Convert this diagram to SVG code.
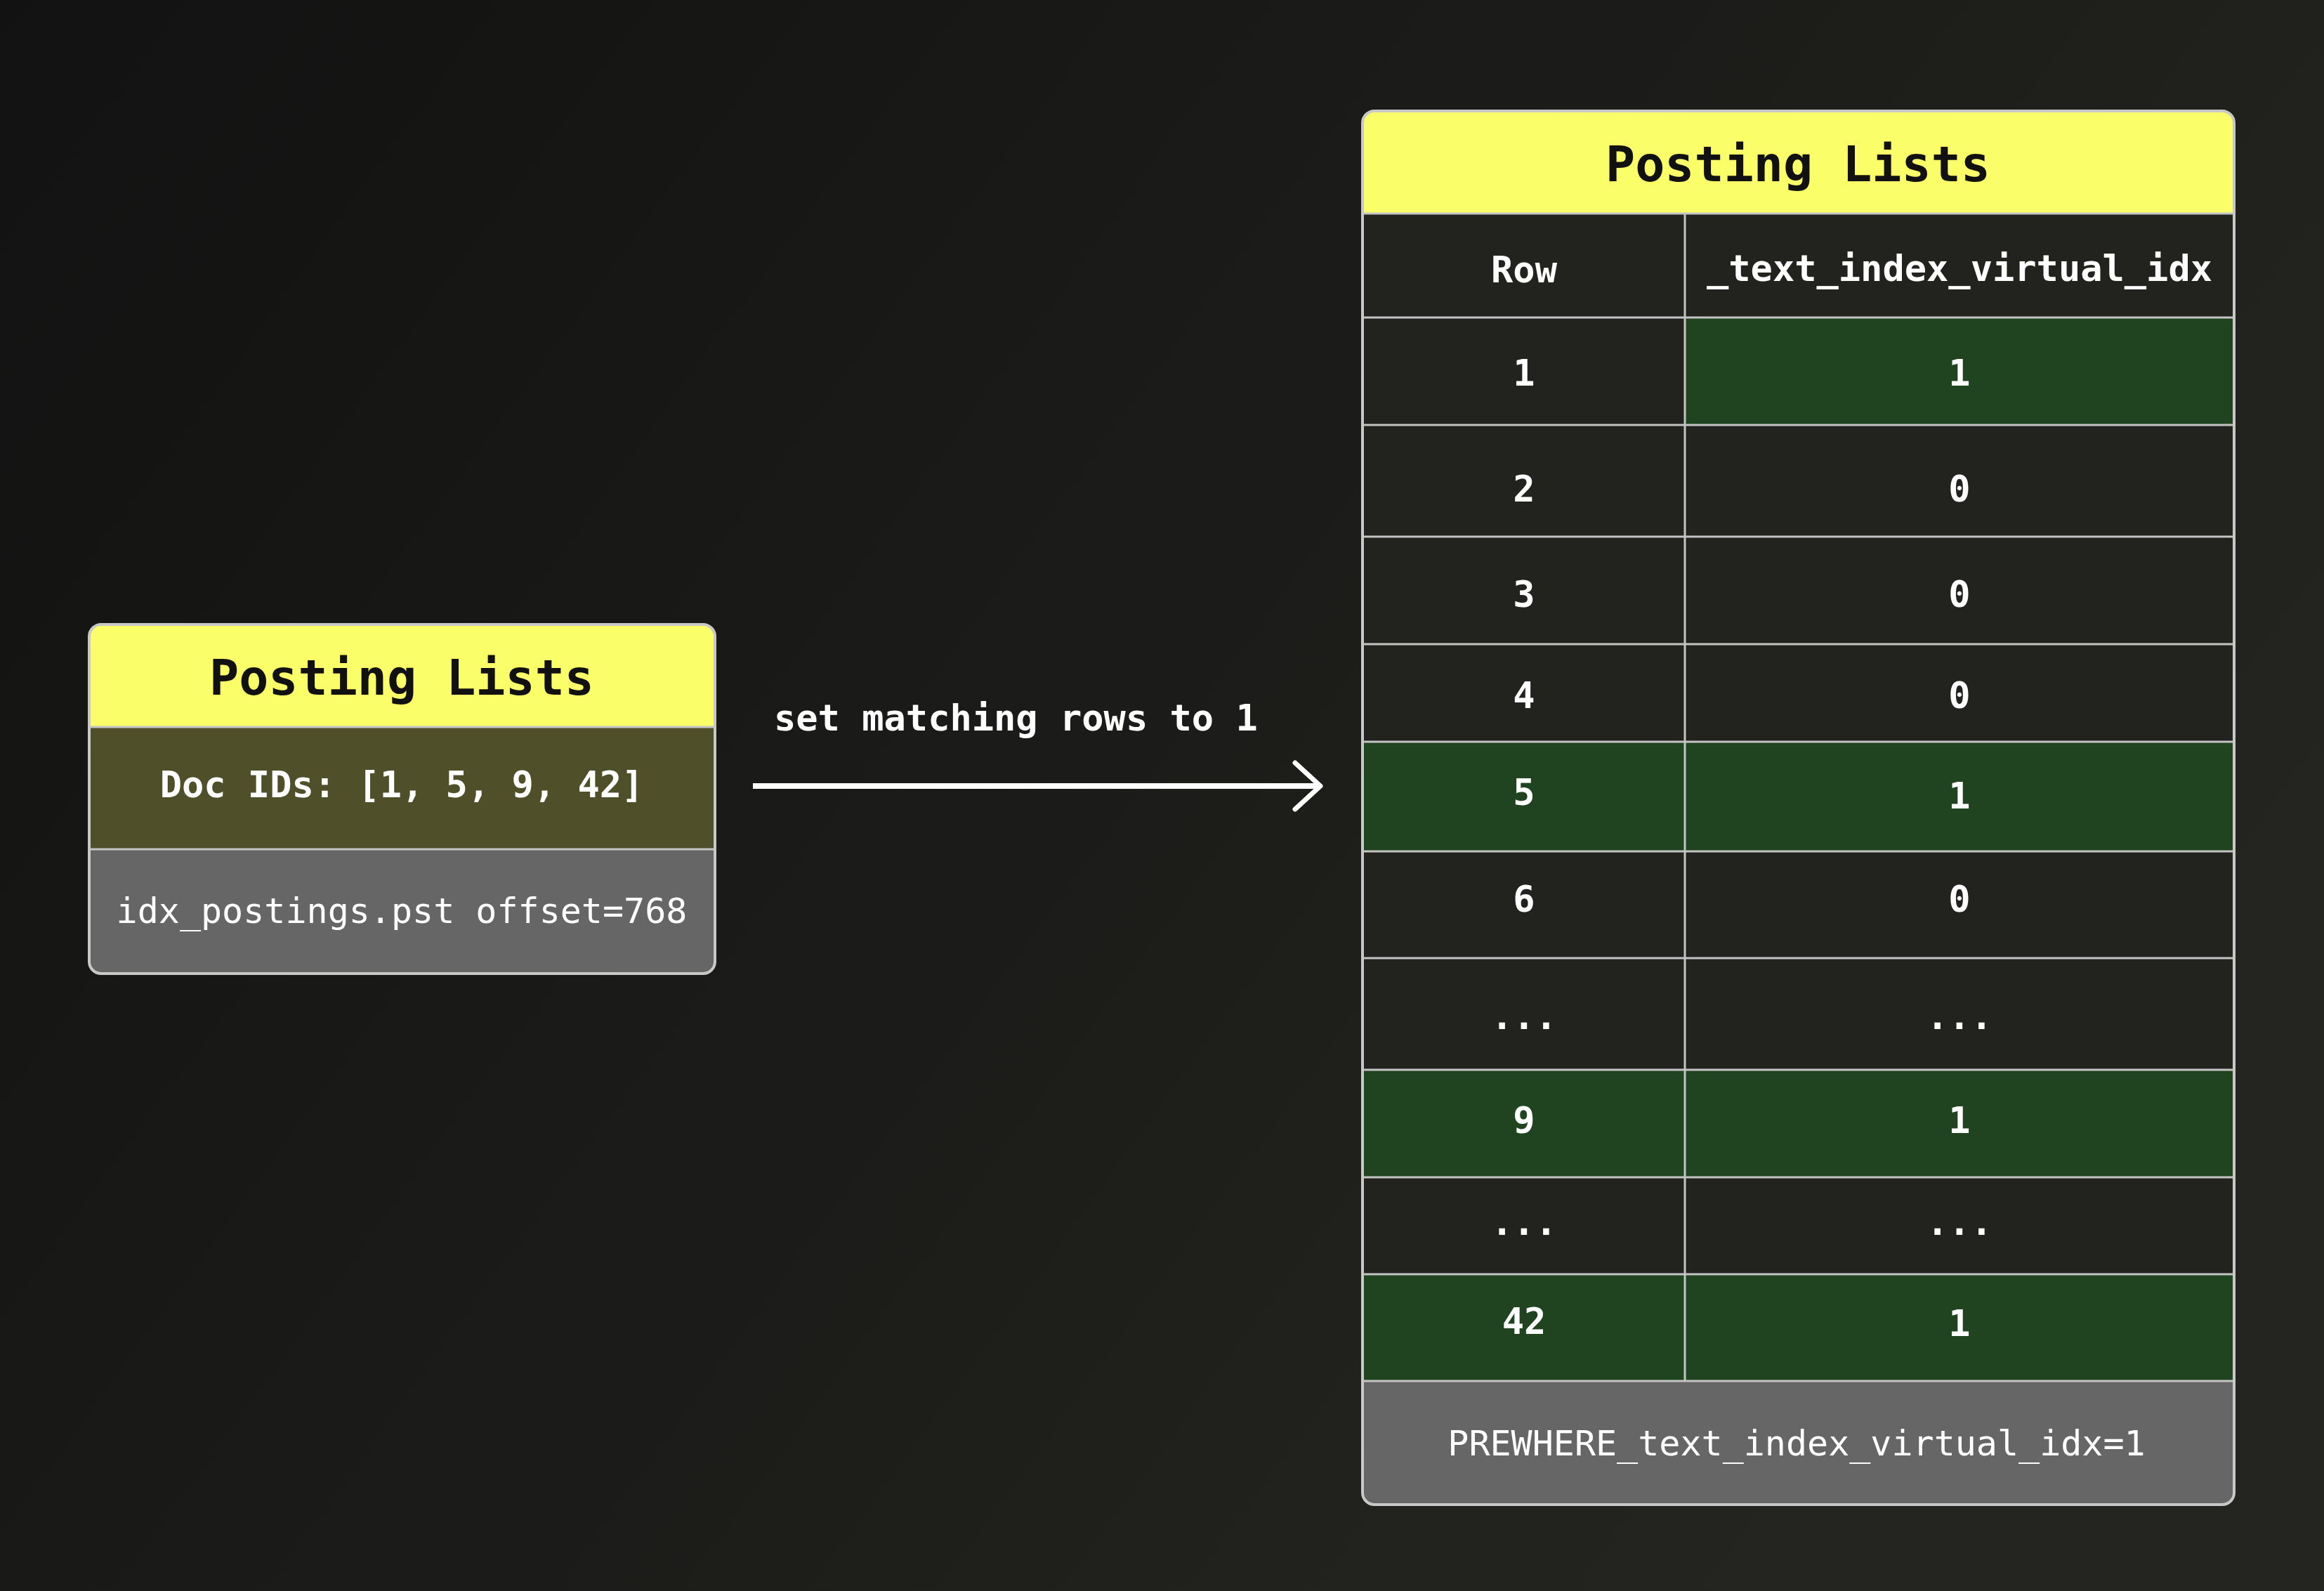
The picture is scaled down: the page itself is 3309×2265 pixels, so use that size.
<svg xmlns="http://www.w3.org/2000/svg" width="3309" height="2265" viewBox="0 0 3309 2265">
  <defs>
    <linearGradient id="bg" x1="0" y1="0" x2="1" y2="0.5">
      <stop offset="0" stop-color="#121212"/>
      <stop offset="0.55" stop-color="#1b1b19"/>
      <stop offset="1" stop-color="#242420"/>
    </linearGradient>
    <clipPath id="clipLeft">
      <rect x="127" y="889" width="891" height="497" rx="17" ry="17"/>
    </clipPath>
    <clipPath id="clipRight">
      <rect x="1940" y="158" width="1241" height="1984" rx="17" ry="17"/>
    </clipPath>
    <marker id="chev" markerUnits="userSpaceOnUse" viewBox="0 0 44 74" refX="40" refY="37" markerWidth="44" markerHeight="74" orient="auto">
      <path d="M4,4 L40,37 L4,70" fill="none" stroke="#ffffff" stroke-width="7" stroke-linecap="round" stroke-linejoin="round"/>
    </marker>
    <style>
      .title { font-family: "DejaVu Sans Mono", "Liberation Mono", monospace; font-size: 70px; font-weight: bold; fill: #111111; text-anchor: middle; }
      .cell { font-family: "DejaVu Sans Mono", "Liberation Mono", monospace; font-size: 52px; font-weight: bold; fill: #ffffff; text-anchor: middle; }
      .foot { font-family: "DejaVu Sans Mono", "Liberation Mono", monospace; font-size: 50px; font-weight: normal; fill: #ffffff; text-anchor: middle; }
      .grid { stroke: #c4c4c4; stroke-width: 3; fill: none; }
      .outline { stroke: #c8c8c8; stroke-width: 4; fill: none; }
      .yellow { fill: #faff69; }
      .olive { fill: #4f4f2a; }
      .grey { fill: #666666; }
      .dark { fill: #22221f; }
      .green { fill: #1f441f; }
    </style>
  </defs>

  <rect x="0" y="0" width="3309" height="2265" fill="url(#bg)"/>

  <g id="node-left">
    <g clip-path="url(#clipLeft)">
      <rect class="yellow" x="127" y="889" width="891" height="146"/>
      <rect class="olive" x="127" y="1035" width="891" height="174"/>
      <rect class="grey" x="127" y="1209" width="891" height="177"/>
    </g>
    <line class="grid" x1="127" y1="1035" x2="1018" y2="1035"/>
    <line class="grid" x1="127" y1="1209" x2="1018" y2="1209"/>
    <rect class="outline" x="127" y="889" width="891" height="497" rx="17" ry="17"/>
    <text class="title" x="572" y="989">Posting Lists</text>
    <text class="cell" x="572" y="1135">Doc IDs: [1, 5, 9, 42]</text>
    <text class="foot" x="572" y="1314">idx_postings.pst offset=768</text>
  </g>

  <g id="node-right">
    <g clip-path="url(#clipRight)">
      <rect class="yellow" x="1940" y="158" width="1241" height="146"/>
      <rect class="dark" x="1940" y="304" width="1241" height="1662"/>
      <rect class="green" x="2399" y="452" width="782" height="153"/>
      <rect class="green" x="1940" y="1056" width="1241" height="156"/>
      <rect class="green" x="1940" y="1523" width="1241" height="153"/>
      <rect class="green" x="1940" y="1814" width="1241" height="152"/>
      <rect class="grey" x="1940" y="1966" width="1241" height="176"/>
    </g>
    <g class="grid">
      <line x1="1940" y1="304" x2="3181" y2="304"/>
      <line x1="1940" y1="452" x2="3181" y2="452"/>
      <line x1="1940" y1="605" x2="3181" y2="605"/>
      <line x1="1940" y1="764" x2="3181" y2="764"/>
      <line x1="1940" y1="917" x2="3181" y2="917"/>
      <line x1="1940" y1="1056" x2="3181" y2="1056"/>
      <line x1="1940" y1="1212" x2="3181" y2="1212"/>
      <line x1="1940" y1="1364" x2="3181" y2="1364"/>
      <line x1="1940" y1="1523" x2="3181" y2="1523"/>
      <line x1="1940" y1="1676" x2="3181" y2="1676"/>
      <line x1="1940" y1="1814" x2="3181" y2="1814"/>
      <line x1="1940" y1="1966" x2="3181" y2="1966"/>
      <line x1="2399" y1="304" x2="2399" y2="1966"/>
    </g>
    <rect class="outline" x="1940" y="158" width="1241" height="1984" rx="17" ry="17"/>
    <text class="title" x="2560" y="258">Posting Lists</text>
    <text class="cell" x="2170" y="402">Row</text>
    <text class="cell" x="2790" y="400">_text_index_virtual_idx</text>
    <text class="cell" x="2170" y="549">1</text>
    <text class="cell" x="2790" y="549">1</text>
    <text class="cell" x="2170" y="714">2</text>
    <text class="cell" x="2790" y="714">0</text>
    <text class="cell" x="2170" y="864">3</text>
    <text class="cell" x="2790" y="864">0</text>
    <text class="cell" x="2170" y="1008">4</text>
    <text class="cell" x="2790" y="1008">0</text>
    <text class="cell" x="2170" y="1146">5</text>
    <text class="cell" x="2790" y="1151">1</text>
    <text class="cell" x="2170" y="1298">6</text>
    <text class="cell" x="2790" y="1298">0</text>
    <text class="cell" x="2170" y="1465">...</text>
    <text class="cell" x="2790" y="1465">...</text>
    <text class="cell" x="2170" y="1613">9</text>
    <text class="cell" x="2790" y="1613">1</text>
    <text class="cell" x="2170" y="1758">...</text>
    <text class="cell" x="2790" y="1758">...</text>
    <text class="cell" x="2170" y="1899">42</text>
    <text class="cell" x="2790" y="1902">1</text>
    <text class="foot" x="2558" y="2072">PREWHERE_text_index_virtual_idx=1</text>
  </g>

  <g id="connectors">
    <line x1="1072" y1="1119" x2="1880" y2="1119" stroke="#ffffff" stroke-width="8" marker-end="url(#chev)"/>
    <text class="cell" x="1102" y="1040" style="text-anchor:start">set matching rows to 1</text>
  </g>
</svg>
